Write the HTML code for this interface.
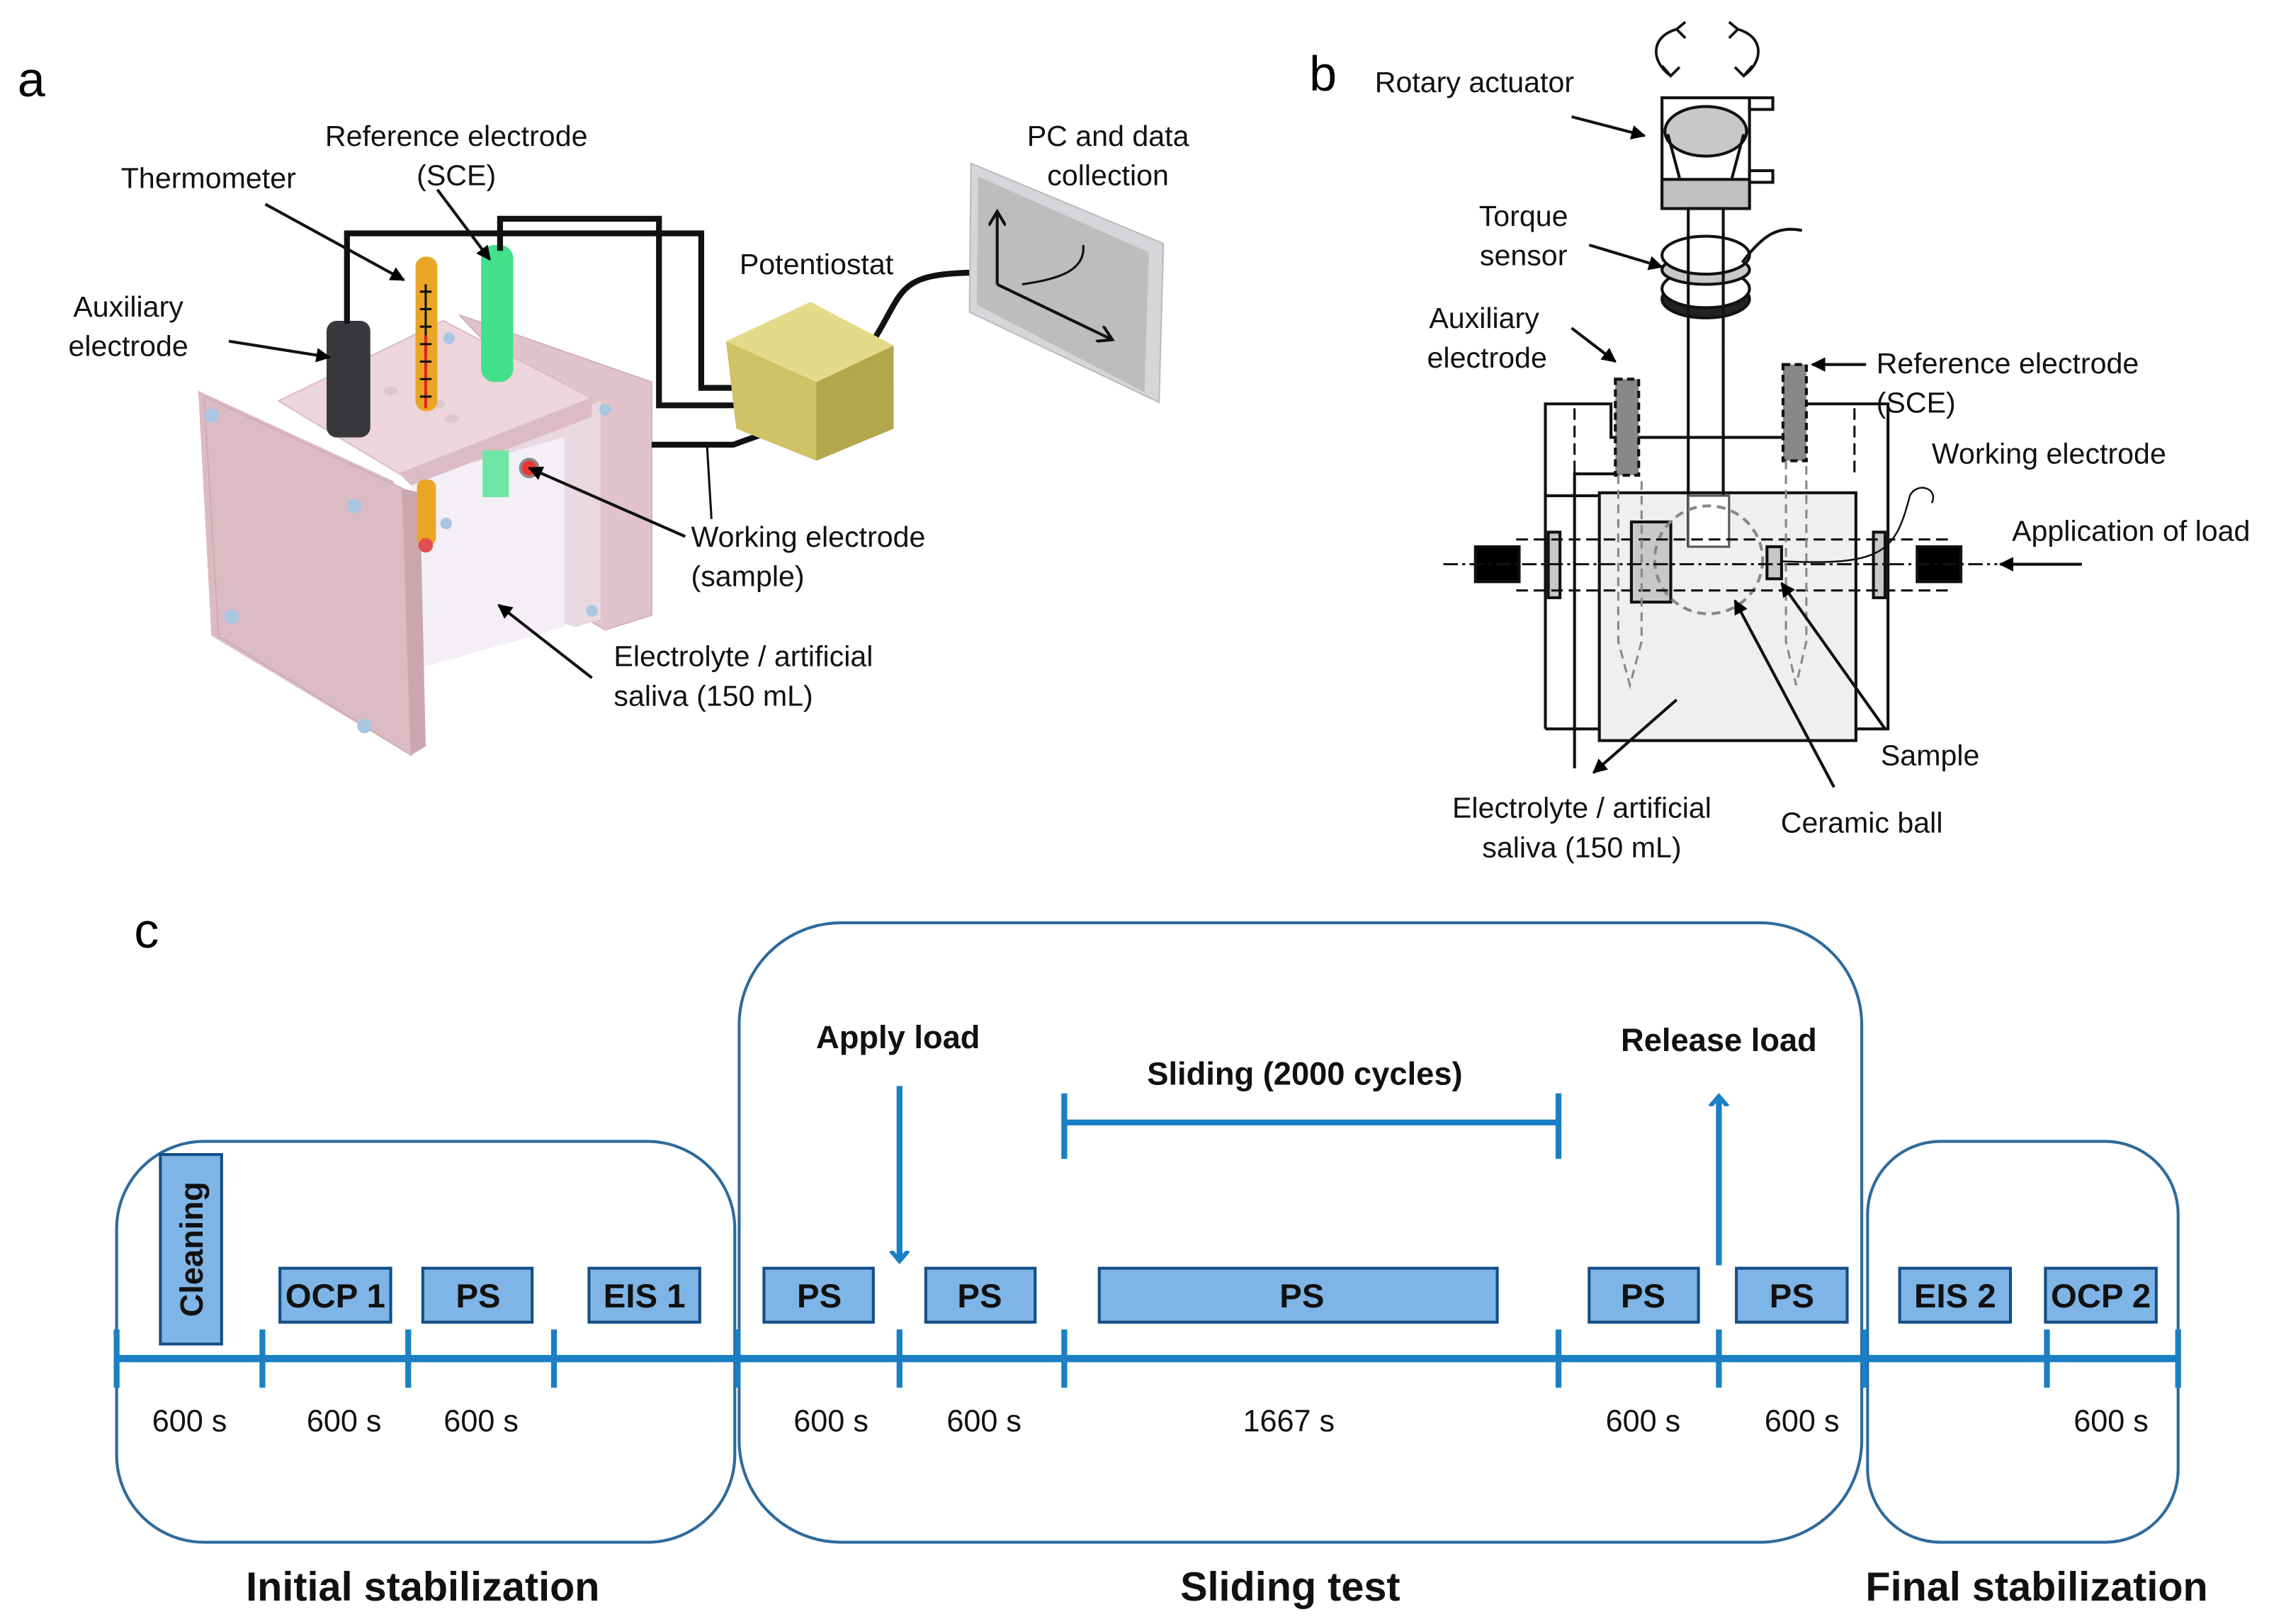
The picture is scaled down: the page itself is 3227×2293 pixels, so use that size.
<!DOCTYPE html>
<html><head><meta charset="utf-8"><style>
html,body{margin:0;padding:0;background:#fff}
svg{display:block}
text{font-family:"Liberation Sans",sans-serif}
</style></head><body>
<svg width="3227" height="2293" viewBox="0 0 1568 1114" xmlns="http://www.w3.org/2000/svg">
<defs>
<marker id="ah" markerWidth="10" markerHeight="10" refX="9" refY="5" orient="auto" markerUnits="userSpaceOnUse"><path d="M0,0 L10,5 L0,10 z" fill="#000"/></marker>
<marker id="bh" markerWidth="14" markerHeight="14" refX="7" refY="7" orient="auto" markerUnits="userSpaceOnUse"><path d="M0,1 L7,7 L0,13" fill="none" stroke="#1a7fc4" stroke-width="3"/></marker>
<marker id="oh" markerWidth="12" markerHeight="12" refX="10" refY="6" orient="auto" markerUnits="userSpaceOnUse"><path d="M0,0 L10,6 L0,12" fill="none" stroke="#111" stroke-width="2"/></marker>
</defs>
<rect width="1568" height="1114" fill="#fff"/>

<!-- ===== Panel a ===== -->
<text x="12" y="66" font-size="34">a</text>
<!-- right plates -->
<polygon points="315,216 447,262 447,422 415,432 395,420 395,300" fill="#e0c3cb" stroke="#d3b2bb"/>
<polygon points="324,305 412,275 412,425 395,430 324,410" fill="#e9d8df"/>
<!-- bottom opening -->
<polygon points="282,329 387,300 387,430 282,460" fill="#f4eff6"/>
<!-- lid -->
<polygon points="191,275 304,220 406,273 274,325" fill="#ecd6dc" stroke="#dcbcc4"/>
<polygon points="274,325 406,273 406,286 282,333" fill="#dcbcc4"/>
<!-- left plate -->
<polygon points="136,268 270,330 278,516 145,436" fill="#ddbac2" />
<polygon points="140,272 276,335 282,518 150,436" fill="#dcbcc4" stroke="#cfadb6"/>
<polygon points="276,335 288,338 292,512 282,518" fill="#cba6af"/>
<g fill="#a9c6e2">
<circle cx="145" cy="285" r="5"/><circle cx="243" cy="347" r="5"/><circle cx="159" cy="423" r="5"/><circle cx="250" cy="498" r="5"/>
<circle cx="308" cy="232" r="4"/><circle cx="415" cy="281" r="4"/><circle cx="406" cy="419" r="4"/><circle cx="306" cy="359" r="4"/>
</g>
<ellipse cx="268" cy="268" rx="5" ry="3" fill="#dfc6cc"/><ellipse cx="300" cy="277" rx="5" ry="3" fill="#dfc6cc"/><ellipse cx="310" cy="287" rx="5" ry="3" fill="#dfc6cc"/>
<!-- electrodes -->
<rect x="224" y="220" width="30" height="80" rx="7" fill="#38383c"/>
<rect x="285" y="176" width="15" height="106" rx="7" fill="#e9a624"/>
<rect x="286" y="329" width="13" height="45" rx="5" fill="#e9a624"/>
<circle cx="292" cy="374" r="5" fill="#e05050"/>
<line x1="292" y1="230" x2="292" y2="280" stroke="#e02020" stroke-width="2"/>
<line x1="292" y1="195" x2="292" y2="230" stroke="#111" stroke-width="1.5"/>
<g stroke="#111" stroke-width="1.5"><line x1="288" y1="200" x2="296" y2="200"/><line x1="288" y1="212" x2="296" y2="212"/><line x1="288" y1="224" x2="296" y2="224"/><line x1="288" y1="236" x2="296" y2="236"/><line x1="288" y1="248" x2="296" y2="248"/><line x1="288" y1="260" x2="296" y2="260"/><line x1="288" y1="272" x2="296" y2="272"/></g>
<rect x="330" y="168" width="22" height="94" rx="9" fill="#43e08c"/>
<rect x="331" y="309" width="18" height="32" fill="#6fe6a6"/>
<circle cx="363" cy="321" r="6" fill="#e33" stroke="#888" stroke-width="2"/>
<!-- wires -->
<g fill="none" stroke="#111" stroke-width="4">
<polyline points="238,222 238,160 481,160 481,266 503,266"/>
<polyline points="343,172 343,150 452,150 452,278 520,278"/>
<polyline points="447,305 503,305 542,291"/>
<path d="M600,232 C620,200 615,188 666,187"/>
</g>
<line x1="485" y1="306" x2="488" y2="356" stroke="#111" stroke-width="1.5"/>
<circle cx="508" cy="266" r="4" fill="#eee" stroke="#aaa"/>
<circle cx="526" cy="278" r="4" fill="#eee" stroke="#aaa"/>
<circle cx="544" cy="290" r="4" fill="#eee" stroke="#aaa"/>
<!-- potentiostat -->
<polygon points="498,234 556,207 613,237 560,262" fill="#e4db8a"/>
<polygon points="498,234 560,262 560,316 505,294" fill="#cfc267"/>
<polygon points="560,262 613,237 613,294 560,316" fill="#b3a74c"/>
<!-- monitor -->
<polygon points="666,112 798,167 795,276 665,214" fill="#d6d6da" stroke="#bbb"/>
<polygon points="671,121 788,173 785,269 670,209" fill="#bdbdbd"/>
<polyline points="684,195 763,233" fill="none" stroke="#111" stroke-width="2" marker-end="url(#oh)"/>
<line x1="684" y1="195" x2="684" y2="145" stroke="#111" stroke-width="2" marker-end="url(#oh)"/>
<path d="M701,195 C720,192 745,188 743,168" fill="none" stroke="#111" stroke-width="1.5"/>
<!-- labels a -->
<g font-size="20" fill="#111">
<text x="313" y="100" text-anchor="middle">Reference electrode</text>
<text x="313" y="127" text-anchor="middle">(SCE)</text>
<text x="143" y="129" text-anchor="middle">Thermometer</text>
<text x="88" y="217" text-anchor="middle">Auxiliary</text>
<text x="88" y="244" text-anchor="middle">electrode</text>
<text x="560" y="188" text-anchor="middle">Potentiostat</text>
<text x="760" y="100" text-anchor="middle">PC and data</text>
<text x="760" y="127" text-anchor="middle">collection</text>
<text x="474" y="375">Working electrode</text>
<text x="474" y="402">(sample)</text>
<text x="421" y="457">Electrolyte / artificial</text>
<text x="421" y="484">saliva (150 mL)</text>
</g>
<g stroke="#111" stroke-width="2" fill="none" marker-end="url(#ah)">
<line x1="182" y1="140" x2="277" y2="192"/>
<line x1="300" y1="130" x2="336" y2="178"/>
<line x1="157" y1="234" x2="226" y2="245"/>
<line x1="470" y1="368" x2="363" y2="321"/>
<line x1="406" y1="465" x2="342" y2="415"/>
</g>

<!-- ===== Panel b ===== -->
<text x="898" y="62" font-size="34">b</text>
<g font-size="20" fill="#111">
<text x="943" y="63">Rotary actuator</text>
<text x="1045" y="155" text-anchor="middle">Torque</text>
<text x="1045" y="182" text-anchor="middle">sensor</text>
<text x="1018" y="225" text-anchor="middle">Auxiliary</text>
<text x="1020" y="252" text-anchor="middle">electrode</text>
<text x="1287" y="256">Reference electrode</text>
<text x="1287" y="283">(SCE)</text>
<text x="1325" y="318">Working electrode</text>
<text x="1380" y="371">Application of load</text>
<text x="1290" y="525">Sample</text>
<text x="1085" y="561" text-anchor="middle">Electrolyte / artificial</text>
<text x="1085" y="588" text-anchor="middle">saliva (150 mL)</text>
<text x="1277" y="571" text-anchor="middle">Ceramic ball</text>
</g>
<g fill="none" stroke="#111" stroke-width="1.8">
<path d="M1150,20 C1132,25 1132,42 1146,52 M1140,45 L1146,52 L1152,46"/>
<path d="M1150,20 L1156,26 M1150,20 L1156,15"/>
<path d="M1192,20 C1210,25 1210,42 1196,52 M1202,45 L1196,52 L1190,46"/>
<path d="M1192,20 L1186,26 M1192,20 L1186,15"/>
</g>
<g stroke="#111" stroke-width="2">
<rect x="1140" y="67" width="60" height="75" fill="#fff"/>
<rect x="1200" y="67" width="16" height="8" fill="#fff"/>
<rect x="1200" y="117" width="16" height="8" fill="#fff"/>
<ellipse cx="1170" cy="90" rx="28" ry="17" fill="#c8c8c8"/>
<line x1="1144" y1="92" x2="1152" y2="122"/><line x1="1196" y1="92" x2="1188" y2="122"/>
<rect x="1140" y="123" width="60" height="20" fill="#c0c0c0"/>
<rect x="1158" y="143" width="24" height="42" fill="#fff"/>
<ellipse cx="1170" cy="205" rx="30" ry="13" fill="#222"/>
<ellipse cx="1170" cy="198" rx="30" ry="13" fill="#fff"/>
<ellipse cx="1170" cy="185" rx="30" ry="10" fill="#c8c8c8"/>
<ellipse cx="1170" cy="175" rx="30" ry="13" fill="#fff"/>
<path d="M1158,160 L1158,240 M1182,160 L1182,240" fill="none"/>
<path d="M1195,180 C1210,160 1220,155 1236,158" fill="none"/>
<polyline points="1113,340 1060,340 1060,277 1105,277 1105,300 1234,300 1234,277 1295,277 1295,500 1060,500" fill="none"/>
<line x1="1060" y1="340" x2="1060" y2="500"/>
<polyline points="1080,527 1080,325 1117,325 M1228,325 1272,325 1272,527 1080,527" fill="none"/>
<rect x="1097" y="338" width="176" height="170" fill="#efefef"/>
<line x1="1158" y1="240" x2="1158" y2="375"/><line x1="1182" y1="240" x2="1182" y2="375"/>
<rect x="1158" y="340" width="28" height="35" fill="#fff" stroke="#555" stroke-width="1.5"/>
<rect x="1108" y="260" width="16" height="66" fill="#888" stroke-dasharray="5,3"/>
<rect x="1223" y="250" width="16" height="66" fill="#888" stroke-dasharray="5,3"/>
<rect x="1119" y="358" width="27" height="55" fill="#c8c8c8"/>
<rect x="1212" y="375" width="10" height="22" fill="#c8c8c8"/>
<rect x="1062" y="365" width="8" height="45" fill="#c8c8c8"/>
<rect x="1285" y="365" width="8" height="45" fill="#c8c8c8"/>
<rect x="1012" y="375" width="30" height="24" fill="#000"/>
<rect x="1315" y="375" width="30" height="24" fill="#000"/>
</g>
<circle cx="1172" cy="384" r="37" fill="none" stroke="#888" stroke-width="2" stroke-dasharray="6,4"/>
<g stroke="#111" stroke-width="1.5" stroke-dasharray="8,4" fill="none">
<line x1="1040" y1="370" x2="1340" y2="370"/><line x1="1040" y1="405" x2="1340" y2="405"/>
<line x1="990" y1="387" x2="1370" y2="387" stroke-dasharray="10,3,2,3"/>
<line x1="1080" y1="280" x2="1080" y2="325"/><line x1="1272" y1="280" x2="1272" y2="325"/>
</g>
<g stroke="#888" stroke-width="1.5" stroke-dasharray="6,4" fill="none">
<path d="M1110,326 L1110,440 L1118,470 L1126,440 L1126,326"/>
<path d="M1225,316 L1225,440 L1232,470 L1239,440 L1239,316"/>
</g>
<path d="M1222,385 C1290,388 1300,380 1310,340 C1315,330 1330,335 1325,345" fill="none" stroke="#111" stroke-width="1.2"/>
<g stroke="#111" stroke-width="2" fill="none" marker-end="url(#ah)">
<line x1="1078" y1="80" x2="1128" y2="93"/>
<line x1="1090" y1="168" x2="1140" y2="183"/>
<line x1="1078" y1="225" x2="1108" y2="248"/>
<line x1="1280" y1="250" x2="1243" y2="250"/>
<line x1="1428" y1="387" x2="1372" y2="387"/>
<line x1="1293" y1="500" x2="1222" y2="400"/>
<line x1="1258" y1="540" x2="1190" y2="412"/>
<line x1="1150" y1="480" x2="1093" y2="530"/>
</g>

<!-- ===== Panel c ===== -->
<text x="92" y="650" font-size="34">c</text>
<g fill="none" stroke="#2f6a9c" stroke-width="2">
<rect x="80" y="783" width="424" height="275" rx="60"/>
<rect x="507" y="633" width="770" height="425" rx="70"/>
<rect x="1281" y="783" width="213" height="275" rx="50"/>
</g>
<line x1="80" y1="932" x2="1494" y2="932" stroke="#1a7fc4" stroke-width="5"/>
<g stroke="#1a7fc4" stroke-width="4">
<line x1="80" y1="912" x2="80" y2="952"/><line x1="180" y1="912" x2="180" y2="952"/>
<line x1="280" y1="912" x2="280" y2="952"/><line x1="380" y1="912" x2="380" y2="952"/>
<line x1="506" y1="912" x2="506" y2="952"/><line x1="617" y1="912" x2="617" y2="952"/>
<line x1="730" y1="912" x2="730" y2="952"/><line x1="1069" y1="912" x2="1069" y2="952"/>
<line x1="1179" y1="912" x2="1179" y2="952"/><line x1="1279" y1="912" x2="1279" y2="952"/>
<line x1="1404" y1="912" x2="1404" y2="952"/><line x1="1494" y1="912" x2="1494" y2="952"/>
</g>
<g fill="#7fb5e6" stroke="#124f86" stroke-width="2">
<rect x="110" y="792" width="42" height="130"/>
<rect x="192" y="870" width="76" height="37"/><rect x="290" y="870" width="75" height="37"/>
<rect x="404" y="870" width="76" height="37"/><rect x="524" y="870" width="75" height="37"/>
<rect x="635" y="870" width="75" height="37"/><rect x="754" y="870" width="273" height="37"/>
<rect x="1090" y="870" width="75" height="37"/><rect x="1191" y="870" width="76" height="37"/>
<rect x="1303" y="870" width="76" height="37"/><rect x="1403" y="870" width="76" height="37"/>
</g>
<g font-size="23" font-weight="bold" fill="#111" text-anchor="middle">
<text x="230" y="897">OCP 1</text><text x="328" y="897">PS</text><text x="442" y="897">EIS 1</text>
<text x="562" y="897">PS</text><text x="672" y="897">PS</text><text x="893" y="897">PS</text>
<text x="1127" y="897">PS</text><text x="1229" y="897">PS</text>
<text x="1341" y="897">EIS 2</text><text x="1441" y="897">OCP 2</text>
<text transform="translate(139,857) rotate(-90)" font-size="22">Cleaning</text>
</g>
<g font-size="21" fill="#111" text-anchor="middle">
<text x="130" y="982">600 s</text><text x="236" y="982">600 s</text><text x="330" y="982">600 s</text>
<text x="570" y="982">600 s</text><text x="675" y="982">600 s</text><text x="884" y="982">1667 s</text>
<text x="1127" y="982">600 s</text><text x="1236" y="982">600 s</text><text x="1448" y="982">600 s</text>
</g>
<g font-size="22" font-weight="bold" fill="#111" text-anchor="middle">
<text x="616" y="719">Apply load</text>
<text x="1179" y="721">Release load</text>
<text x="895" y="744">Sliding (2000 cycles)</text>
</g>
<g font-size="28" font-weight="bold" fill="#111" text-anchor="middle">
<text x="290" y="1098">Initial stabilization</text>
<text x="885" y="1098">Sliding test</text>
<text x="1397" y="1098">Final stabilization</text>
</g>
<g stroke="#1a7fc4" stroke-width="4" fill="none">
<line x1="617" y1="745" x2="617" y2="865" marker-end="url(#bh)"/>
<line x1="1179" y1="868" x2="1179" y2="752" marker-end="url(#bh)"/>
<line x1="730" y1="770" x2="1069" y2="770"/>
<line x1="730" y1="750" x2="730" y2="795"/><line x1="1069" y1="750" x2="1069" y2="795"/>
</g>
</svg>
</body></html>
